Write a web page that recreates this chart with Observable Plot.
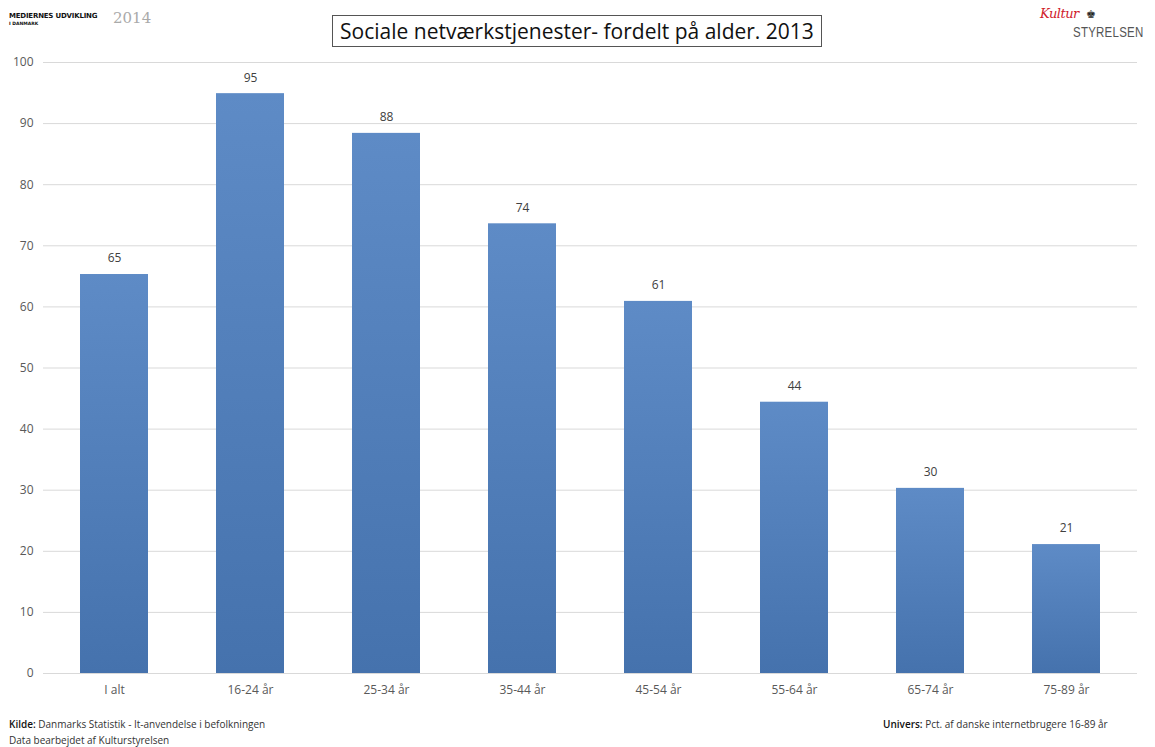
<!DOCTYPE html>
<html>
<head>
<meta charset="utf-8">
<script src="https://cdn.jsdelivr.net/npm/d3@7"></script>
<script src="https://cdn.jsdelivr.net/npm/@observablehq/plot@0.6"></script>
<style>
  body { margin: 0; background: #fff; font-family: "Open Sans", sans-serif; }
  #wrap { position: relative; width: 1155px; height: 747px; overflow: hidden; }
  #chart { position: absolute; left: 0; top: 0; }
  .abs { position: absolute; white-space: nowrap; }
  #title { left: 332px; top: 15px; width: 490px; height: 32px; border: 1px solid #555; box-sizing: border-box;
           font-size: 21px; line-height: 30px; text-align: center; color: #111; }
  #logoL1 { left: 9px; top: 12px; font-family: "DejaVu Sans", sans-serif; font-weight: bold; font-size: 7px; color: #111; letter-spacing: -0.2px; }
  #logoL2 { left: 9px; top: 21px; font-family: "DejaVu Sans", sans-serif; font-weight: bold; font-size: 4.5px; color: #111; }
  #logoL3 { left: 113px; top: 9px; font-family: "DejaVu Serif", serif; font-size: 15px; color: #aaa; }
  #logoR1 { left: 1040px; top: 6px; font-family: "DejaVu Serif", serif; font-style: italic; font-size: 13px; color: #d0202a; letter-spacing: -0.5px; }
  #logoR1 span { color: #222; font-style: normal; font-size: 11px; margin-left: 4px; }
  #logoR2 { left: 1073px; top: 24px; font-family: "Liberation Sans", sans-serif; font-size: 14px; color: #555; letter-spacing: 0.3px;
            transform: scaleX(0.82); transform-origin: left top; }
  .foot { font-size: 10px; color: #333; }
  .foot b { font-weight: 600; color: #111; }
</style>
</head>
<body>
<div id="wrap">
  <div id="chart"></div>
  <div class="abs" id="logoL1">MEDIERNES UDVIKLING</div>
  <div class="abs" id="logoL2">I DANMARK</div>
  <div class="abs" id="logoL3">2014</div>
  <div class="abs" id="title">Sociale netværkstjenester- fordelt på alder. 2013</div>
  <div class="abs" id="logoR1">Kultur <span>♚</span></div>
  <div class="abs" id="logoR2">STYRELSEN</div>
  <div class="abs foot" style="left:9px; top:717px;"><b>Kilde:</b> Danmarks Statistik - It-anvendelse i befolkningen</div>
  <div class="abs foot" style="left:9px; top:733px;">Data bearbejdet af Kulturstyrelsen</div>
  <div class="abs foot" style="left:883px; top:717px;"><b>Univers:</b> Pct. af danske internetbrugere 16-89 år</div>
</div>
<script>
const categories = ["I alt", "16-24 år", "25-34 år", "35-44 år", "45-54 år", "55-64 år", "65-74 år", "75-89 år"];
const values = [65.3, 94.9, 88.4, 73.6, 60.9, 44.4, 30.3, 21.1];
const labels = ["65", "95", "88", "74", "61", "44", "30", "21"];
const yTicks = [0, 10, 20, 30, 40, 50, 60, 70, 80, 90, 100];

const data = categories.map((c, i) => ({category: c, value: values[i], label: labels[i]}));

const chart = Plot.plot({
  width: 1155,
  height: 747,
  marginTop: 62,
  marginBottom: 74,
  marginLeft: 43,
  marginRight: 18,
  style: {fontFamily: "Open Sans, sans-serif", fontSize: "12px", color: "#595959", background: "transparent"},
  x: {domain: categories, paddingInner: 0.5, paddingOuter: 0.25, label: null, tickSize: 0, tickPadding: 12},
  y: {domain: [0, 100], ticks: yTicks, label: null, tickSize: 0, tickPadding: 10},
  marks: [
    Plot.ruleY(yTicks, {stroke: "#d9d9d9", strokeWidth: 1}),
    Plot.barY(data, {x: "category", y: "value", fill: "url(#barGrad)"}),
    Plot.text(data, {x: "category", y: "value", text: "label", dy: -16, fill: "#404040", fontSize: 12})
  ]
});

const svgNS = "http://www.w3.org/2000/svg";
const defs = document.createElementNS(svgNS, "defs");
const grad = document.createElementNS(svgNS, "linearGradient");
grad.setAttribute("id", "barGrad");
grad.setAttribute("x1", "0"); grad.setAttribute("y1", "0");
grad.setAttribute("x2", "0"); grad.setAttribute("y2", "1");
[["0%", "#5e8bc6"], ["100%", "#4572ad"]].forEach(([o, c]) => {
  const s = document.createElementNS(svgNS, "stop");
  s.setAttribute("offset", o); s.setAttribute("stop-color", c);
  grad.appendChild(s);
});
defs.appendChild(grad);
chart.insertBefore(defs, chart.firstChild);

document.getElementById("chart").appendChild(chart);
</script>
</body>
</html>
